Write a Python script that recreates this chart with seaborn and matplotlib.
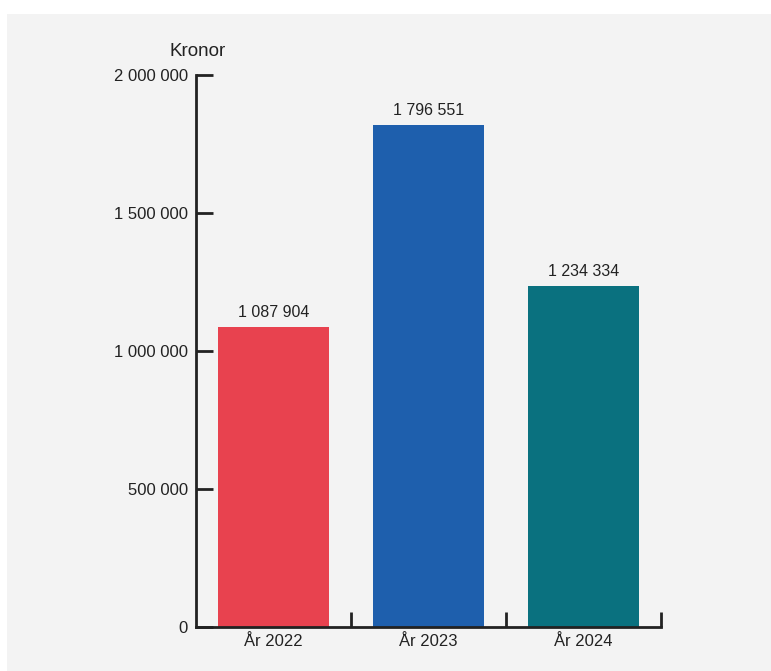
import matplotlib
matplotlib.use("Agg")
import matplotlib.pyplot as plt
import seaborn as sns
import pandas as pd
from matplotlib.patches import Rectangle
from matplotlib.ticker import FuncFormatter

categories = ["År 2022", "År 2023", "År 2024"]
values = [1087904, 1818000, 1234334]          # bar heights as drawn in the picture
value_labels = ["1 087 904", "1 796 551", "1 234 334"]
colors = ["#e8424f", "#1e5fad", "#0a717f"]
y_ticks = [0, 500000, 1000000, 1500000, 2000000]

sns.set_theme(style="white")
plt.rcParams["font.family"] = ["Liberation Sans", "DejaVu Sans"]

W, H = 771, 671
fig = plt.figure(figsize=(W / 100, H / 100), dpi=100)
fig.patch.set_facecolor("white")
fig.patches.append(Rectangle((7 / W, 0), 1 - 7 / W, 1 - 14 / H, transform=fig.transFigure,
                             facecolor="#f3f3f3", edgecolor="none", zorder=-10))

ax = fig.add_axes([196 / W, 1 - 627 / H, (661 - 196) / W, (627 - 75) / H])
ax.set_facecolor("none")

df = pd.DataFrame({"cat": categories, "val": values})
sns.barplot(data=df, x="cat", y="val", hue="cat", palette=colors, legend=False,
            width=0.72, saturation=1, linewidth=0, edgecolor="none", ax=ax, zorder=1)

ax.set_ylim(0, 2000000)
ax.set_xlim(-0.5, 2.5)
ax.set_yticks(y_ticks)
ax.yaxis.set_major_formatter(FuncFormatter(lambda v, p: f"{int(v):,}".replace(",", " ")))
ax.set_xlabel("")
ax.set_ylabel("")

for s in ["top", "right"]:
    ax.spines[s].set_visible(False)
for s in ["left", "bottom"]:
    ax.spines[s].set_color("#222222")
    ax.spines[s].set_linewidth(2)
    ax.spines[s].set_zorder(5)

ax.tick_params(axis="y", which="major", left=True, direction="in", length=12, width=2,
               color="#222222", labelsize=12, labelcolor="#222222", pad=6)
ax.tick_params(axis="x", which="major", bottom=False, length=0, labelsize=12,
               labelcolor="#222222", pad=5)
ax.set_xticks([0.5, 1.5, 2.5], minor=True)
ax.tick_params(axis="x", which="minor", bottom=True, direction="in", length=11, width=2,
               color="#222222")

for i, (v, lab) in enumerate(zip(values, value_labels)):
    ax.text(i, v + 26000, lab, ha="center", va="bottom", fontsize=11.5, color="#222222")

fig.text(198 / W, 1 - 52 / H, "Kronor", ha="center", va="center", fontsize=13.5, color="#222222")

fig.savefig("out.png", dpi=100)
